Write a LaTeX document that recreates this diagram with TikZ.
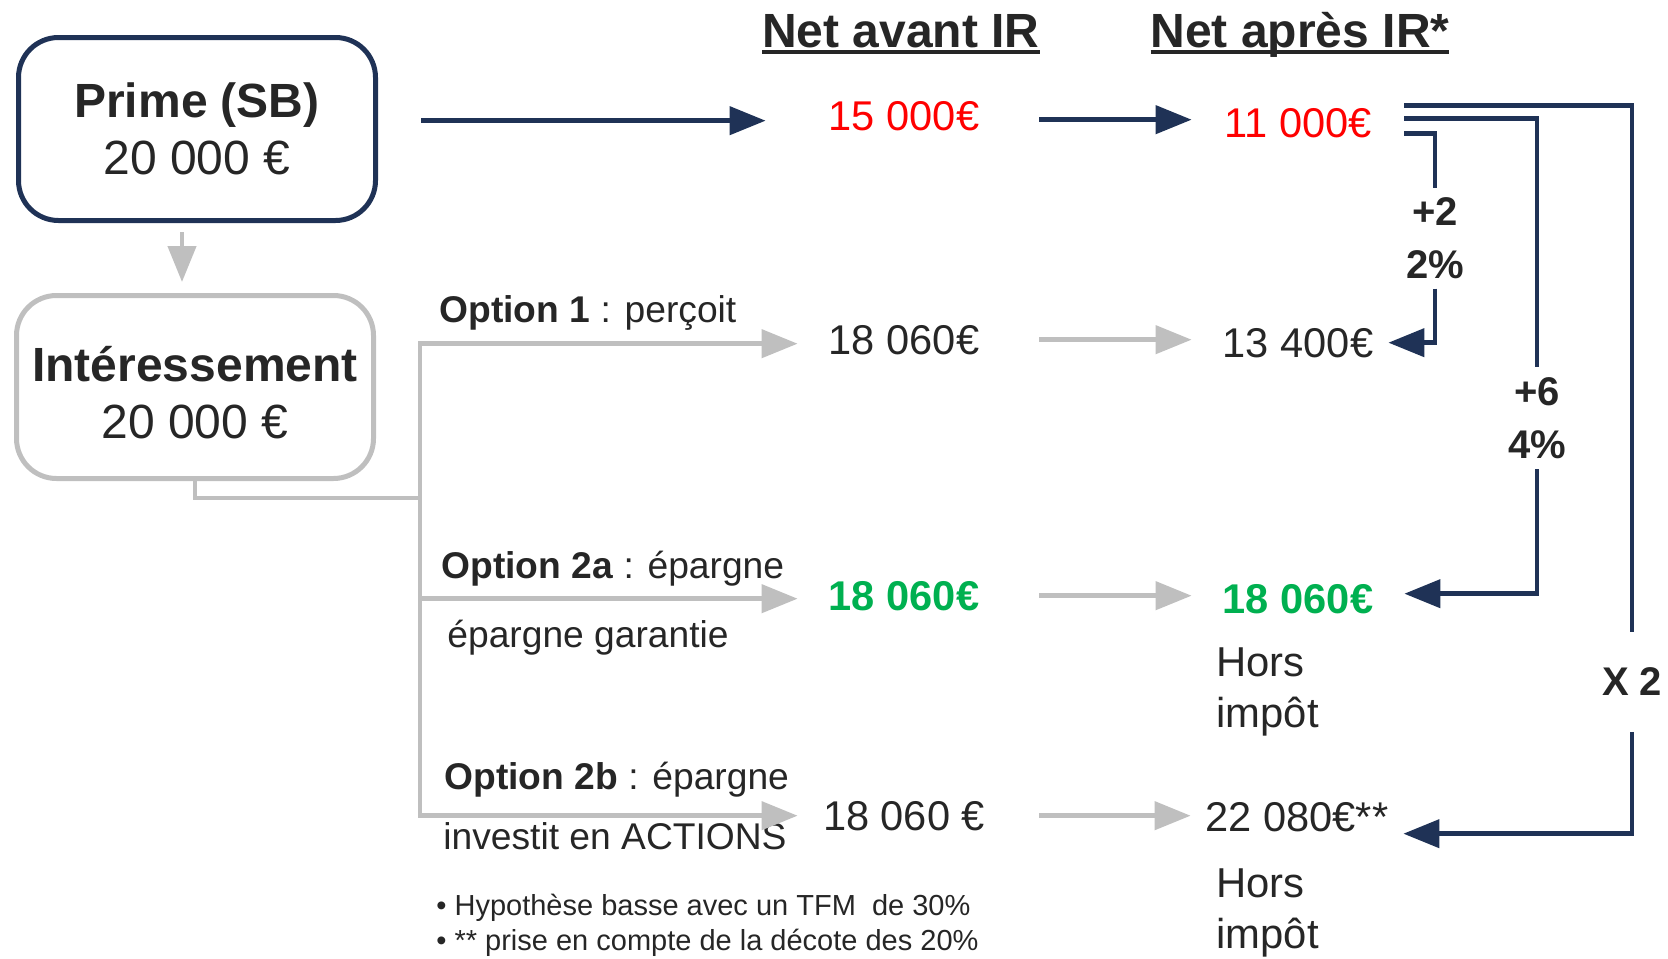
\documentclass[tikz,border=0pt]{standalone}
\usepackage{fontspec}
\setmainfont{Liberation Sans}
\usepackage{tikz}
\usetikzlibrary{arrows.meta}
\definecolor{marine}{HTML}{1F3256}
\definecolor{gris}{HTML}{BFBFBF}
\definecolor{rouge}{HTML}{FF0000}
\definecolor{vert}{HTML}{00B050}
\definecolor{sombre}{HTML}{262626}
\newcommand{\souligne}[1]{\setbox0=\hbox{#1}\rlap{\rule[-3.5pt]{\wd0}{2pt}}\box0}
\tikzstyle{boite}=[
        rectangle,
        rounded corners=20pt,
        line width=2.5pt,
        minimum width=178.5pt,
        minimum height=91.5pt,
        align=center,
        text=sombre,
        font=\fontsize{24}{28.5}\selectfont
]
\tikzstyle{titre}=[inner sep=0pt,anchor=base,text=sombre,font=\bfseries\fontsize{24}{28}\selectfont]
\tikzstyle{valeur}=[inner xsep=0pt,inner ysep=2pt,minimum width=106pt,anchor=base,text=sombre,font=\fontsize{20.8}{25}\selectfont]
\tikzstyle{choix}=[inner sep=0pt,anchor=base west,text=sombre,font=\fontsize{18.6}{22}\selectfont]
\tikzstyle{note}=[inner sep=0pt,anchor=base west,text=sombre,font=\fontsize{14.5}{17}\selectfont]
\tikzstyle{hors}=[inner sep=0pt,anchor=north west,align=left,text=sombre,font=\fontsize{20.9}{25.5}\selectfont]
\tikzstyle{taux}=[inner xsep=0pt,align=center,text=sombre,font=\bfseries\fontsize{20}{26.5}\selectfont]
\tikzstyle{fleche}=[->,>={Triangle[length=18pt,width=14pt]},draw=marine,line width=2.2pt]
\tikzstyle{flechegris}=[->,>={Triangle[length=18pt,width=14pt]},draw=gris,line width=2.2pt]
\tikzstyle{liaison}=[draw=gris,line width=2.2pt]
\tikzstyle{crochet}=[draw=marine,line width=2.2pt]
\begin{document}
\begin{tikzpicture}[x=0.5pt,y=-0.5pt]
\useasboundingbox (0,0) rectangle (1668,958);
%Titres
\node[titre] (titreavant) at (901,47) {\souligne{Net avant IR}};
\node[titre] (titreapres) at (1300,47) {\souligne{Net après IR*}};
%Boites
\node[boite,draw=marine] (prime) at (197,129) {\textbf{Prime (SB)}\\20 000 €};
\node[boite,draw=gris] (inter) at (195,387) {\rule{0pt}{23.5pt}\textbf{Intéressement}\\20 000 €};
%Valeurs avant IR
\node[valeur,text=rouge] (avant0) at (904,130) {15 000€};
\node[valeur] (avant1) at (904,354) {18 060€};
\node[valeur,text=vert,font=\bfseries\fontsize{20.8}{25}\selectfont] (avant2) at (904,610) {18 060€};
\node[valeur] (avant3) at (904,830) {18 060 €};
%Valeurs apres IR
\node[valeur,text=rouge] (apres0) at (1298,137) {11 000€};
\node[valeur] (apres1) at (1298,357) {13 400€};
\node[valeur,text=vert,font=\bfseries\fontsize{20.8}{25}\selectfont] (apres2) at (1298,613) {18 060€};
\node[valeur] (apres3) at (1297,831) {22 080€**};
\node[hors] (hors2) at (1216,647) {Hors\\impôt};
\node[hors] (hors3) at (1216,868) {Hors\\impôt};
%Options
\node[choix] (opt1) at (439,322) {\textbf{Option 1} : perçoit};
\node[choix] (opt2a) at (441,578) {\textbf{Option 2a} : épargne};
\node[choix] (garantie) at (447,647) {épargne garantie};
\node[choix] (opt2b) at (444,789) {\textbf{Option 2b} : épargne};
\node[choix] (actions) at (443,849) {investit en ACTIONS};
\node[note] (note1) at (436,915) {• Hypothèse basse avec un TFM\ \ de 30\%};
\node[note] (note2) at (436,950) {• ** prise en compte de la décote des 20\%};
%Taux
\node[taux,inner ysep=4.5pt] (pct22) at (1435,238.5) {+2\\2\%};
\node[taux,inner ysep=5pt] (pct64) at (1537,418) {+6\\4\%};
\node[taux,inner ysep=17.75pt] (fois2) at (1632,682) {X 2};
\coordinate (tronc) at (420,498);
%Fleches
\draw[flechegris] ([xshift=-7.5pt,yshift=-4.5pt]prime.south) -- ([xshift=-6.5pt,yshift=5.5pt]inter.north);
\draw[fleche,shorten <=21.5pt,shorten >=16pt] ([yshift=-2.5pt]prime.east |- avant0.west) -- ([yshift=-2.5pt]avant0.west);
\draw[fleche,shorten <=14.5pt] ([yshift=-2pt]avant0.east) -- ([yshift=-2pt]avant0.east -| apres0.west);
\draw[liaison] (inter.south) |- (tronc);
\draw[flechegris] (tronc) |- ([yshift=-2pt]avant1.west);
\draw[flechegris] (tronc) |- ([yshift=-1.5pt]avant2.west);
\draw[flechegris] (tronc) |- (avant3.west);
\draw[flechegris,shorten <=14.5pt] (avant1.east) -- (avant1.east -| apres1.west);
\draw[flechegris,shorten <=14.5pt] (avant2.east) -- (avant2.east -| apres2.west);
\draw[flechegris,shorten <=14.5pt] (avant3.east) -- (avant3.east -| apres3.west);
%Crochets
\draw[crochet] ([yshift=8.5pt]apres0.east) -| (fois2.north);
\draw[fleche] (fois2.south) |- ([yshift=-8.5pt]apres3.east);
\draw[crochet] ([yshift=2pt]apres0.east) -| (pct64.north);
\draw[fleche] (pct64.south) |- ([yshift=2.5pt]apres2.east);
\draw[crochet] ([yshift=-5.5pt]apres0.east) -| (pct22.north);
\draw[fleche,shorten >=-8pt] (pct22.south) |- (apres1.east);
\end{tikzpicture}
\end{document}
